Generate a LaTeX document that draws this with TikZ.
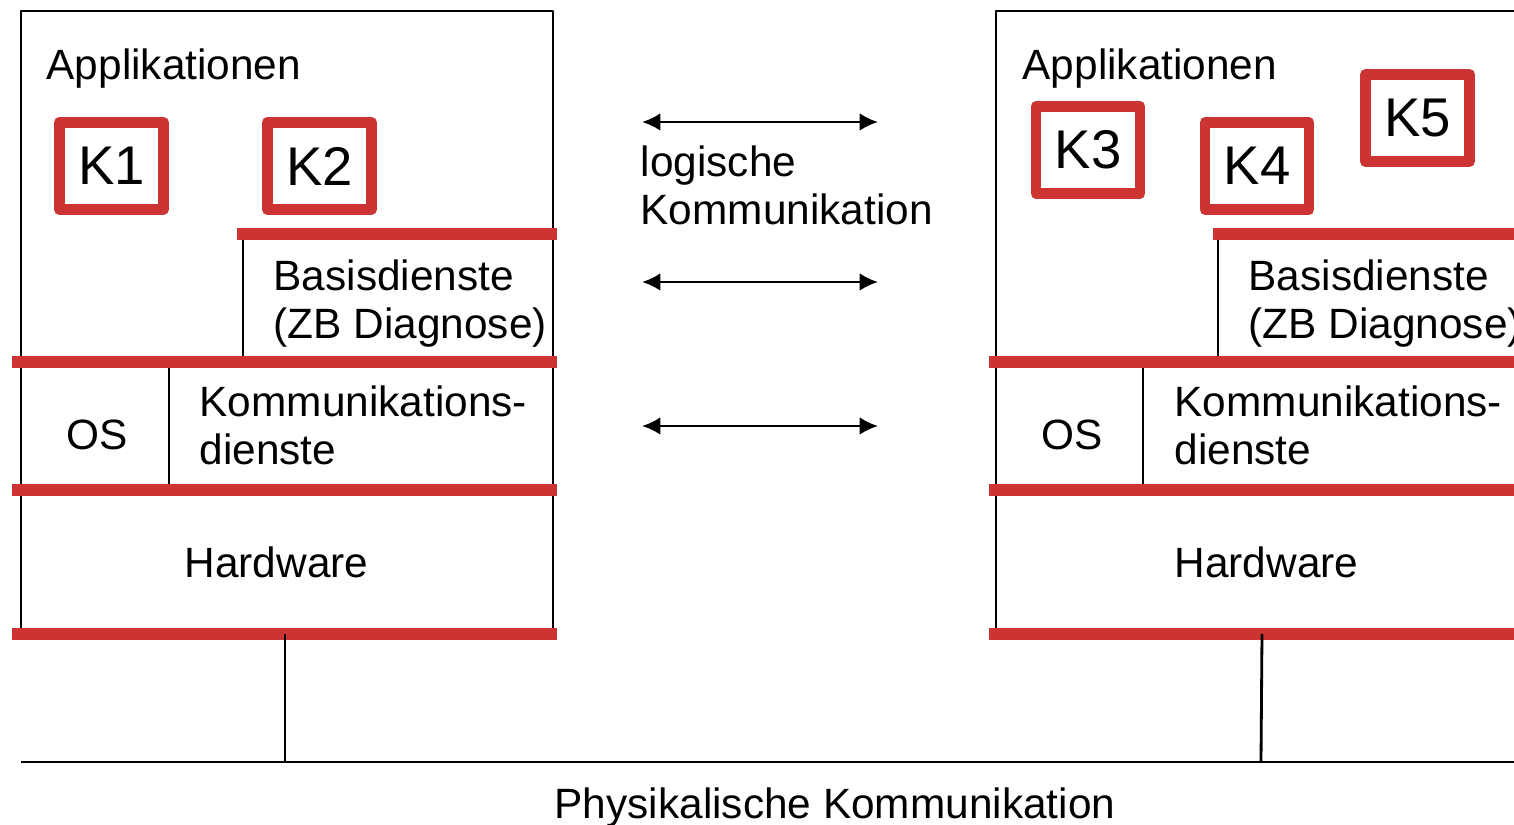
\documentclass[tikz,border=0pt]{standalone}
\usepackage{fontspec}
\setmainfont{Liberation Sans}
\usetikzlibrary{arrows.meta}
\definecolor{barred}{RGB}{204,51,51}
\tikzset{>={Latex[length=5.2pt, width=5pt]}}

\begin{document}
\begin{tikzpicture}[x = 0.01cm, y = -0.01cm, line join = round,
    layer/.style = {barred, line width = 3.4pt},
    frame/.style = {line width = 0.8pt},
    txt/.style = {anchor = base west, inner sep = 0pt, align = left,
        font = \fontsize{12.05}{13.9}\selectfont},
    comp/.style = {draw = barred, line width = 3.1pt, inner sep = 0pt,
        minimum width = 1.04cm, minimum height = 0.87cm,
        font = \fontsize{15.5}{18}\selectfont}]
    \useasboundingbox (0,0) rectangle (1514,825);
    \clip (0,0) rectangle (1514,825);

    % stations
    \draw[frame] (21,634) -- (21,11) -- (553,11) -- (553,634);
    \draw[frame] (243,234) -- (243,362);
    \draw[frame] (169,362) -- (169,490);
    \draw[frame] (996,634) -- (996,11) -- (1520,11);
    \draw[frame] (1218,234) -- (1218,362);
    \draw[frame] (1143,362) -- (1143,490);

    \foreach \y in {362, 490, 634} {
        \draw[layer] (12,\y) -- (557,\y);
        \draw[layer] (989,\y) -- (1520,\y);
    }
    \draw[layer] (237,234) -- (557,234);
    \draw[layer] (1213,234) -- (1520,234);

    \node[txt] (appA) at (46,80) {Applikationen};
    \node[txt] (appB) at (1022,80) {Applikationen};
    \node[comp] (k1) at (111.5,166) {K1};
    \node[comp] (k2) at (319.5,166) {K2};
    \node[comp] (k3) at (1088,150) {K3};
    \node[comp] (k4) at (1257,166) {K4};
    \node[comp] (k5) at (1417.5,118) {K5};

    \node[txt] (basisA) at (273,339) {Basisdienste\\(ZB Diagnose)};
    \node[txt] (basisB) at (1248,339) {Basisdienste\\(ZB Diagnose)};
    \node[txt] (osA) at (66,450) {OS};
    \node[txt] (osB) at (1041,450) {OS};
    \node[txt] (kommA) at (199,465) {Kommunikations-\\dienste};
    \node[txt] (kommB) at (1174,465) {Kommunikations-\\dienste};
    \node[txt] (hwA) at (184,578) {Hardware};
    \node[txt] (hwB) at (1174,578) {Hardware};

    % logical links
    \foreach \y [count = \i] in {122, 282, 426} {
        \coordinate (la\i) at (642,\y);
        \coordinate (ra\i) at (878,\y);
        \draw[frame, <->] (la\i) -- (ra\i);
    }
    \node[txt] (logisch) at (640,225) {logische\\Kommunikation};

    % physical link
    \coordinate (busL) at (21,762);
    \coordinate (busR) at (1520,762);
    \coordinate (tapA) at (285,634);
    \coordinate (tapB) at (1262,634);
    \draw[frame] (busL) -- (busR);
    \draw[frame] (tapA) -- (tapA |- busL);
    \draw[frame] (tapB) -- (1261,762);
    \node[txt, anchor = base] (phys) at (835,819) {Physikalische Kommunikation};

\end{tikzpicture}
\end{document}
